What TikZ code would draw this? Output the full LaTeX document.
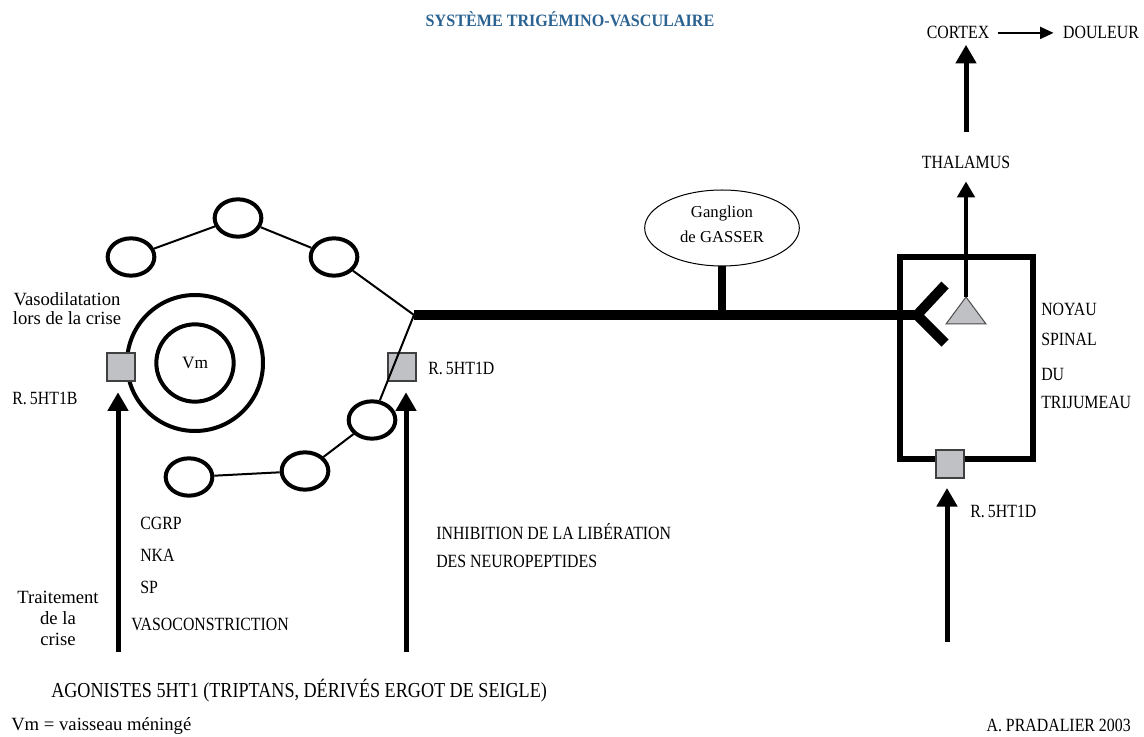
\documentclass[tikz,border=0pt]{standalone}
\usepackage{fontspec}
\setmainfont{Liberation Serif}[FakeStretch=0.85]
\newfontfamily\lcfont{Liberation Serif}
\newfontfamily\titlefont{Liberation Serif}[FakeStretch=0.93]
\usetikzlibrary{arrows.meta,shapes.geometric}
\definecolor{titleblue}{RGB}{42,98,145}
\definecolor{rgray}{RGB}{192,193,197}
\begin{document}
\begin{tikzpicture}[x=0.75pt,y=-0.75pt,
  every node/.style={inner sep=0pt,font=\fontsize{14}{16}\selectfont},
  lc/.style={font=\lcfont\fontsize{14}{16}\selectfont},
  cell/.style={ellipse,draw,line width=3pt,minimum width=35pt,minimum height=28pt},
  vessel/.style={circle,draw,line width=3pt},
  link/.style={line width=1.5pt},
  rcpt/.style={rectangle,draw=black!75,line width=0.9pt,fill=rgray,minimum size=21pt},
  bigarrow/.style={line width=3.75pt,-{Triangle[width=15pt,length=14pt]}},
  nerve/.style={line width=7.5pt}
]
\useasboundingbox (0,0) rectangle (1144,737);

% title
\node[anchor=base,text=titleblue,font=\titlefont\bfseries\fontsize{13}{15}\selectfont] (title) at (570,27) {SYSTÈME TRIGÉMINO-VASCULAIRE};

% top right
\node[anchor=base] (cortex) at (958,39) {CORTEX};
\node[anchor=base] (douleur) at (1101,39) {DOULEUR};
\node[anchor=base] (thal) at (966,169) {THALAMUS};
\draw[line width=1.2pt,-{Triangle[width=9pt,length=10pt]},shorten <=6pt,shorten >=7pt] (cortex.east) -- (douleur.west);
\draw[bigarrow,shorten <=18pt,shorten >=4pt] (thal.north) -- (thal.north |- cortex.south);

% ganglion
\node[ellipse,draw,line width=0.75pt,minimum width=116pt,minimum height=57pt] (gang) at (722,228) {};
\node[lc,font=\lcfont\fontsize{12.5}{14}\selectfont,anchor=base] (gl1) at (722,218) {Ganglion};
\node[lc,font=\lcfont\fontsize{12.5}{14}\selectfont,anchor=base] (gl2) at (722,243) {de GASSER};

% nerve
\coordinate (J) at (414,315);
\coordinate (Y) at (917,315);
\coordinate (Ya) at (945,285);
\coordinate (Yb) at (945,343);
\draw[nerve] (J) -- (Y);
\draw[nerve] (Ya) -- (Y) -- (Yb);
\draw[line width=6.5pt] (gang.south) -- (gang.south |- J);

% box (noyau)
\node[draw,line width=4.5pt,minimum width=99.75pt,minimum height=151.5pt] (box) at (966.5,358) {};
\coordinate (tri) at (966,297);
\draw[fill=rgray,draw=black!70,line width=0.75pt] (tri) -- (986,324) -- (946,324) -- cycle;
\draw[line width=3pt,-{Triangle[width=13pt,length=12pt]},shorten >=9pt] (tri) -- (thal.south);
\node[rcpt] (rN) at (950,464) {};
\node[anchor=base west] (noy1) at (1041,316) {NOYAU};
\node[anchor=base west] (noy2) at (1041,346) {SPINAL};
\node[anchor=base west] (noy3) at (1041,380) {DU};
\node[anchor=base west] (noy4) at (1041,408) {TRIJUMEAU};
\node[anchor=base west] (rNl) at (970,517) {R.\,5HT1D};
\coordinate (aN0) at (947,642);
\draw[bigarrow,shorten >=7pt] (aN0) -- (aN0 |- rN.south);

% vessel
\node[vessel,minimum size=102pt] (vout) at (195,363) {};
\node[vessel,minimum size=58pt,lc,font=\lcfont\fontsize{13}{15}\selectfont] (vin) at (195,363) {Vm};

% cells
\node[cell] (e1) at (131,257) {};
\node[cell] (e2) at (238,218) {};
\node[cell] (e3) at (334,257) {};
\node[cell] (e4) at (372,420) {};
\node[cell] (e5) at (305,471) {};
\node[cell] (e6) at (189,477) {};
\draw[link] (e1) -- (e2);
\draw[link] (e2) -- (e3);
\draw[link] (e3) -- (J);
\draw[link] (e4) -- (e5);
\draw[link] (e5) -- (e6);

% receptors
\node[rcpt] (rB) at (121,367) {};
\node[rcpt] (rD) at (402,367) {};
\draw[link] (J) -- (e4);

\node[lc,anchor=base] (vaso1) at (67,306) {Vasodilatation};
\node[lc,anchor=base] (vaso2) at (67,325) {lors de la crise};
\node[anchor=base west] (rBl) at (12,404) {R.\,5HT1B};
\node[anchor=base west] (rDl) at (428,374) {R.\,5HT1D};

% arrows
\coordinate (aB0) at (118,652);
\coordinate (aD0) at (406,652);
\draw[bigarrow,shorten >=8pt] (aB0) -- (aB0 |- rB.south);
\draw[bigarrow,shorten >=8pt] (aD0) -- (aD0 |- rD.south);

% lower texts
\node[anchor=base west] (cgrp) at (140,529) {CGRP};
\node[anchor=base west] (nka) at (140,561) {NKA};
\node[anchor=base west] (sp) at (140,593) {SP};
\node[anchor=base west] (vc) at (131,630) {VASOCONSTRICTION};
\node[lc,anchor=base] (tr1) at (58,603) {Traitement};
\node[lc,anchor=base] (tr2) at (58,624) {de la};
\node[lc,anchor=base] (tr3) at (58,645) {crise};
\node[anchor=base west] (inh1) at (436,539) {INHIBITION DE LA LIBÉRATION};
\node[anchor=base west] (inh2) at (436,567) {DES NEUROPEPTIDES};
\node[anchor=base west,font=\fontsize{16}{18}\selectfont] (ago) at (51,697) {AGONISTES 5HT1 (TRIPTANS, DÉRIVÉS ERGOT DE SEIGLE)};
\node[lc,anchor=base west] (vm) at (11,730) {Vm = vaisseau méningé};
\node[anchor=base east] (auth) at (1131,731) {A. PRADALIER 2003};
\end{tikzpicture}
\end{document}
